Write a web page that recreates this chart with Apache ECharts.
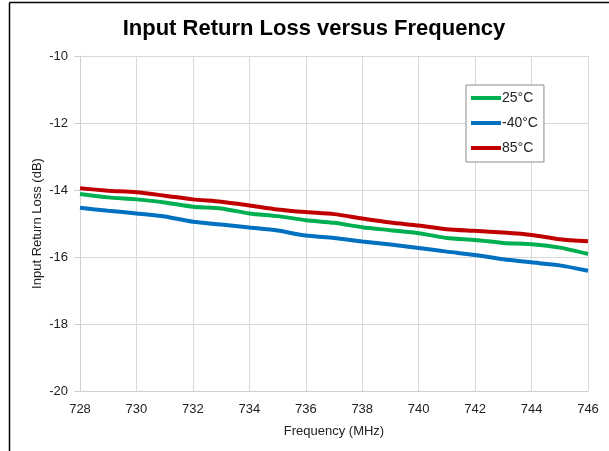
<!DOCTYPE html>
<html>
<head>
<meta charset="utf-8">
<script src="https://cdn.jsdelivr.net/npm/echarts@6/dist/echarts.min.js"></script>
<style>
  html, body { margin: 0; padding: 0; background: #ffffff; }
  #chart { width: 609px; height: 451px; }
</style>
</head>
<body>
<div id="chart"></div>
<script>
// Frequency sweep (MHz)
const frequencies = [728, 729, 730, 731, 732, 733, 734, 735, 736, 737, 738, 739, 740, 741, 742, 743, 744, 745, 746];

// Input return loss (dB) at each temperature
const rl25 = [-14.12, -14.22, -14.28, -14.37, -14.50, -14.55, -14.70, -14.78, -14.90, -14.98, -15.11, -15.20, -15.29, -15.43, -15.49, -15.58, -15.62, -15.72, -15.91];
const rlMinus40 = [-14.53, -14.62, -14.70, -14.79, -14.95, -15.03, -15.12, -15.21, -15.36, -15.43, -15.54, -15.63, -15.73, -15.84, -15.94, -16.07, -16.16, -16.25, -16.41];
const rl85 = [-13.95, -14.02, -14.07, -14.17, -14.28, -14.35, -14.46, -14.58, -14.66, -14.72, -14.85, -14.97, -15.06, -15.17, -15.22, -15.27, -15.34, -15.47, -15.53];

const seriesNames = ['25°C', '-40°C', '85°C'];
const seriesColors = ['#00B050', '#0070C0', '#C00000'];

const xTicks = { min: 728, max: 746, step: 2 };
const yTicks = { min: -20, max: -10, step: 2 };

const FONT = '"Liberation Sans", Arial, sans-serif';

function pairs(values) {
  return frequencies.map((f, i) => [f, values[i]]);
}

const chart = echarts.init(document.getElementById('chart'), null, { renderer: 'canvas' });

chart.setOption({
  animation: false,
  backgroundColor: '#ffffff',
  title: {
    text: 'Input Return Loss versus Frequency',
    left: 309,
    top: 13,
    textAlign: 'center',
    textStyle: { fontFamily: FONT, fontSize: 22, fontWeight: 'bold', color: '#000000' }
  },
  grid: { left: 80, right: 21, top: 56, bottom: 60, containLabel: false },
  legend: {
    orient: 'vertical',
    left: 466,
    top: 85,
    width: 77,
    padding: [6, 6, 7, 5],
    itemGap: 11,
    itemWidth: 30,
    itemHeight: 14,
    backgroundColor: '#ffffff',
    borderColor: '#8c8c8c',
    borderWidth: 1,
    borderRadius: 0,
    textStyle: { fontFamily: FONT, fontSize: 14, color: '#222222', padding: [0, 0, 0, -4] },
    icon: 'path://M0,5 L30,5 L30,9 L0,9 Z',
    data: seriesNames
  },
  xAxis: {
    type: 'value',
    min: xTicks.min,
    max: xTicks.max,
    interval: xTicks.step,
    name: 'Frequency (MHz)',
    nameLocation: 'middle',
    nameGap: 34,
    nameTextStyle: { fontFamily: FONT, fontSize: 13, color: '#222222' },
    axisLine: { show: true, lineStyle: { color: '#d0d0d0', width: 1 } },
    axisTick: { show: false },
    axisLabel: { fontFamily: FONT, fontSize: 13, color: '#222222', margin: 12 },
    splitLine: { show: true, lineStyle: { color: '#d9d9d9', width: 1 } }
  },
  yAxis: {
    type: 'value',
    min: yTicks.min,
    max: yTicks.max,
    interval: yTicks.step,
    name: 'Input Return Loss (dB)',
    nameLocation: 'middle',
    nameGap: 36,
    nameRotate: 90,
    nameMoveOverlap: false,
    nameTextStyle: { fontFamily: FONT, fontSize: 13, color: '#222222' },
    axisLine: { show: true, lineStyle: { color: '#d0d0d0', width: 1 } },
    axisTick: { show: true, length: 6, lineStyle: { color: '#d0d0d0' } },
    axisLabel: { fontFamily: FONT, fontSize: 13, color: '#222222', margin: 12 },
    splitLine: { show: true, lineStyle: { color: '#d9d9d9', width: 1 } }
  },
  series: [rl25, rlMinus40, rl85].map((vals, i) => ({
    name: seriesNames[i],
    type: 'line',
    data: pairs(vals),
    showSymbol: false,
    smooth: 0.25,
    lineStyle: { color: seriesColors[i], width: 4 },
    itemStyle: { color: seriesColors[i] },
    z: i === 1 ? 2 : 3
  })),
  graphic: [
    // outer chart frame edges
    { type: 'line', shape: { x1: 9.5, y1: 2.5, x2: 609, y2: 2.5 }, style: { stroke: '#000000', lineWidth: 1.5 } },
    { type: 'line', shape: { x1: 9.5, y1: 2.5, x2: 9.5, y2: 451 }, style: { stroke: '#000000', lineWidth: 1.5 } }
  ]
});
</script>
</body>
</html>
